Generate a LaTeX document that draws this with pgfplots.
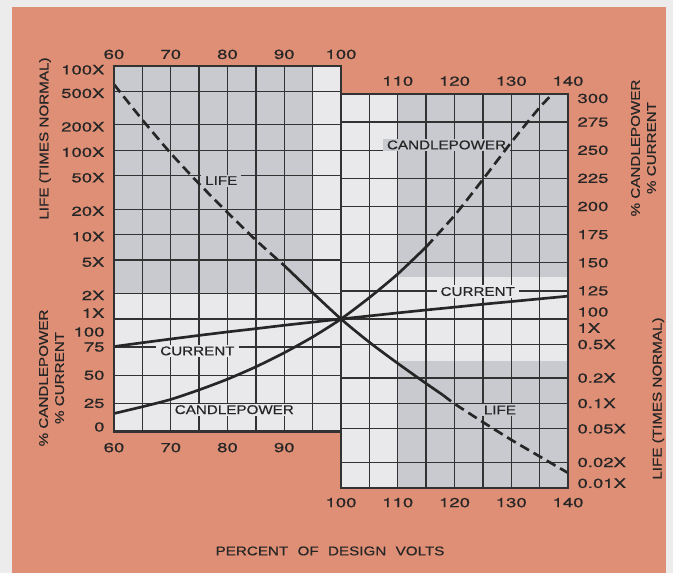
\documentclass[border=0pt]{standalone}
\usepackage{fontspec}
\setmainfont{Liberation Sans}[FakeStretch=1.2, FakeBold=0.5]
\newfontfamily\tickfamily{TeX Gyre Heros}[FakeStretch=1.42, FakeBold=0.5]
\usepackage{pgfplots}
\usepackage{pgfplotstable}
\pgfplotsset{compat=1.18}

\definecolor{outerbg}{RGB}{236,236,236}
\definecolor{salmon}{RGB}{222,143,117}
\definecolor{cellL}{RGB}{233,233,236}
\definecolor{cellD}{RGB}{201,202,208}
\definecolor{ink}{RGB}{38,38,38}
\definecolor{gridc}{RGB}{50,50,50}

\newcommand{\tickfont}{\tickfamily\fontsize{9.8}{11}\selectfont}
\newcommand{\labfont}{\fontsize{9.5}{11}\selectfont}

% LIFE (times normal)
\pgfplotstableread{
V L
60 603
65 229
70 92
75 40
80 18.3
85 8.6
90 4.3
}\lifeA
\pgfplotstableread{
V L
90 4.3
95 2.05
100 1
105 0.53
110 0.298
115 0.172
118 0.125
}\lifeB
\pgfplotstableread{
V L
118 0.125
120 0.099
125 0.060
130 0.037
135 0.0235
140 0.0150
}\lifeC
% CANDLEPOWER (%)
\pgfplotstableread{
V P
60 16
65 22
70 28.5
75 37
80 46.5
85 57.5
90 70
95 84
100 100
105 119
110 140
115 164
}\cpA
\pgfplotstableread{
V P
115 164
120 192
125 224
130 257
135 288
137.3 300
}\cpB
% CURRENT (%)
\pgfplotstableread{
V C
60 75.5
65 78.9
70 82.2
75 85.4
80 88.5
85 91.4
90 94.4
95 97.2
100 100
105 102.7
110 105.4
115 108.0
120 110.5
125 113.1
130 115.5
135 117.9
140 120.3
}\cur

\pgfplotsset{
  hidden/.style={axis line style={draw=none}, major tick length=0pt, tick style={draw=none},
    ticklabel style={font=\tickfont, text=ink}},
  curve/.style={line width=2pt, color=ink, smooth, tension=0.4},
  dsh/.style={dash pattern=on 7.5pt off 4pt},
  gridl/.style={line width=1pt, color=gridc},
}
\tikzset{lab/.style={font=\labfont, text=ink, inner xsep=3pt, inner ysep=1.2pt},
         ttl/.style={font=\labfont, text=ink}}

\begin{document}
\begin{tikzpicture}
\useasboundingbox (0,0) rectangle (504.75pt,429.75pt);
\fill[outerbg] (0,0) rectangle (504.75pt,429.75pt);
\fill[salmon] (9pt,0) rectangle (499.5pt,424.5pt);

% master axis: drawing + left y labels + top-left x labels
\begin{axis}[hidden,
  at={(85.5pt,63.94pt)}, anchor=south west, scale only axis,
  width=340.5pt, height=316.41pt,
  xmin=60, xmax=140, ymin=-50, ymax=325, clip=false,
  unbounded coords=jump,
  xtick={60,70,80,90,100}, xticklabels={60,70,80,90,100}, xticklabel pos=upper,
  xticklabel style={yshift=1.5pt},
  ytick={4,25,50,75,88.4,105.3,121,150.6,173.2,195.8,225.6,248.2,270.8,300.6,321.5},
  yticklabels={0,25,50,75,100,1X,2X,5X,10X,20X,50X,100X,200X,500X,100X},
  yticklabel style={xshift=-3.6pt},
]
% panel backgrounds
\addplot[draw=none, fill=cellL] coordinates {(60,0) (100,0) (100,325) (60,325)};
\addplot[draw=none, fill=cellL] coordinates {(100,-50) (140,-50) (140,300) (100,300)};
\addplot[draw=none, fill=cellD] coordinates {(60,122.58) (95,122.58) (95,325) (60,325)};
\addplot[draw=none, fill=cellD] coordinates {(110,137.5) (140,137.5) (140,300) (110,300)};
\addplot[draw=none, fill=cellD] coordinates {(110,-50) (140,-50) (140,62.5) (110,62.5)};
% vertical grid
\addplot[gridl] coordinates {
 (65,0) (65,325) (65,nan) (70,0) (70,325) (70,nan) (75,0) (75,325) (75,nan)
 (80,0) (80,325) (80,nan) (85,0) (85,325) (85,nan) (90,0) (90,325) (90,nan)
 (95,0) (95,325) (95,nan) (100,0) (100,300) (100,nan)
 (105,-50) (105,300) (105,nan) (110,-50) (110,300) (110,nan) (115,-50) (115,300) (115,nan)
 (120,-50) (120,300) (120,nan) (125,-50) (125,300) (125,nan) (130,-50) (130,300) (130,nan)
 (135,-50) (135,300)};
% horizontal grid
\addplot[gridl] coordinates {
 (60,25) (140,25) (nan,25) (60,50) (100,50) (nan,50) (60,75) (100,75) (nan,75)
 (60,100) (140,100) (nan,100) (60,122.58) (100,122.58) (nan,122.58)
 (60,152.42) (100,152.42) (nan,152.42) (60,175) (140,175) (nan,175)
 (60,197.58) (100,197.58) (nan,197.58) (60,227.42) (100,227.42) (nan,227.42)
 (60,250) (140,250) (nan,250) (60,272.58) (100,272.58) (nan,272.58)
 (60,302.42) (100,302.42) (nan,302.42)
 (100,125) (140,125) (nan,125) (100,150) (140,150) (nan,150) (100,200) (140,200) (nan,200)
 (100,225) (140,225) (nan,225) (100,275) (140,275) (nan,275)
 (100,77.42) (140,77.42) (nan,77.42) (100,47.58) (140,47.58) (nan,47.58)
 (100,2.42) (140,2.42) (nan,2.42) (100,-27.42) (140,-27.42)};
% curve labels
\node[lab, fill=cellD] at (axis cs:78.9,223) {LIFE};
\node[lab, fill=cellD] at (axis cs:118.6,254.7) {CANDLEPOWER};
\node[lab, fill=cellL] at (axis cs:124.1,124.4) {CURRENT};
\node[lab, fill=cellL] at (axis cs:74.7,71.6) {CURRENT};
\node[lab, fill=cellL] at (axis cs:81.2,19.4) {CANDLEPOWER};
\node[lab, fill=cellD] at (axis cs:128,19.1) {LIFE};
% curves
\addplot[curve] table[x=V, y=C] {\cur};
\addplot[curve] table[x=V, y=P] {\cpA};
\addplot[curve, dsh] table[x=V, y=P] {\cpB};
\addplot[curve, dsh] table[x=V, y expr={100+75*log10(\thisrow{L})}] {\lifeA};
\addplot[curve] table[x=V, y expr={100+75*log10(\thisrow{L})}] {\lifeB};
\addplot[curve, dsh] table[x=V, y expr={100+75*log10(\thisrow{L})}] {\lifeC};
% frame
\addplot[line width=1.6pt, color=gridc, line join=miter] coordinates {
 (60,0) (60,325) (100,325) (100,300) (140,300) (140,-50) (100,-50) (100,0) (60,0) (60,325)};
% titles
\node[ttl, rotate=90] at (axis cs:47.84,260.4) {LIFE (TIMES NORMAL)};
\node[ttl, rotate=90, align=center] at (axis cs:49,47.6) {\% CANDLEPOWER\\[1pt]\% CURRENT};
\node[ttl, rotate=90, align=center] at (axis cs:153.3,252) {\% CANDLEPOWER\\[1pt]\% CURRENT};
\node[ttl, rotate=90] at (axis cs:155.9,29.3) {LIFE (TIMES NORMAL)};
\node[ttl] at (axis cs:98.06,-106.2) {PERCENT\hspace{7pt}OF\hspace{7pt}DESIGN\hspace{7pt}VOLTS};
\end{axis}

% right y labels + bottom-right x labels
\begin{axis}[hidden,
  at={(85.5pt,63.94pt)}, anchor=south west, scale only axis,
  width=340.5pt, height=316.41pt,
  xmin=60, xmax=140, ymin=-50, ymax=325,
  xtick={100,110,120,130,140}, xticklabels={100,110,120,130,140},
  xticklabel style={yshift=-4.1pt},
  yticklabel pos=right,
  ytick={-46,-27.42,2.42,25,47.58,77.42,92,106.2,125,150,175,200,225,250,275,296},
  yticklabels={0.01X,0.02X,0.05X,0.1X,0.2X,0.5X,1X,100,125,150,175,200,225,250,275,300},
  yticklabel style={anchor=west, xshift=3.6pt},
]
\end{axis}

% bottom-left x labels
\begin{axis}[hidden,
  at={(85.5pt,106.125pt)}, anchor=south west, scale only axis,
  width=170.25pt, height=20pt,
  xmin=60, xmax=100, ymin=0, ymax=1, ytick=\empty,
  xtick={60,70,80,90}, xticklabels={60,70,80,90},
  xticklabel style={yshift=-5pt},
]
\end{axis}

% top-right x labels
\begin{axis}[hidden,
  at={(255.75pt,359.25pt)}, anchor=north west, scale only axis,
  width=170.25pt, height=20pt,
  xmin=100, xmax=140, ymin=0, ymax=1, ytick=\empty,
  xtick={110,120,130,140}, xticklabels={110,120,130,140}, xticklabel pos=upper,
  xticklabel style={yshift=2.5pt},
]
\end{axis}
\end{tikzpicture}
\end{document}
